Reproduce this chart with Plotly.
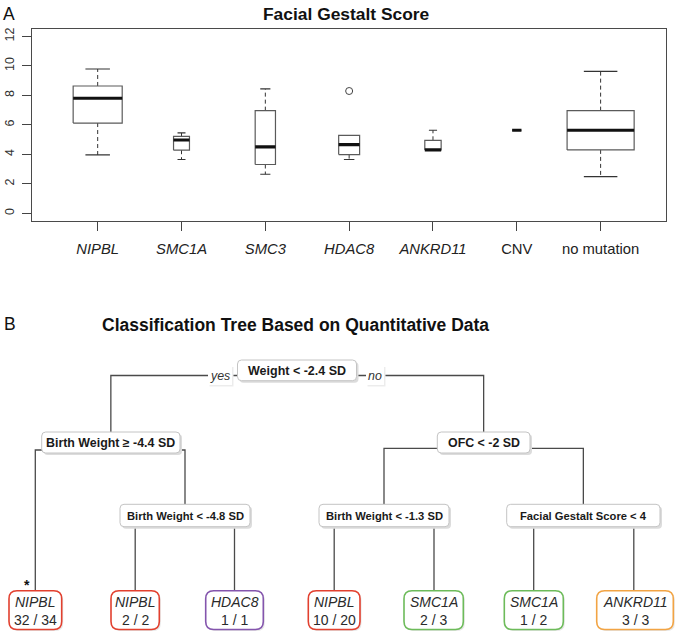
import plotly.graph_objects as go

# ---------------- Panel A data ----------------
categories = ["NIPBL", "SMC1A", "SMC3", "HDAC8", "ANKRD11", "CNV", "no mutation"]
is_gene = [True, True, True, True, True, False, False]
lower_whisker = [3.97, 3.66, 2.66, 3.66, 4.31, 5.64, 2.50]
q1_values = [6.13, 4.29, 3.32, 3.99, 4.31, 5.64, 4.31]
median_values = [7.81, 4.98, 4.51, 4.67, 4.31, 5.64, 5.64]
q3_values = [8.64, 5.23, 6.97, 5.30, 4.96, 5.64, 6.97]
upper_whisker = [9.79, 5.46, 8.44, 5.30, 5.64, 5.64, 9.63]
outlier_category = ["HDAC8"]
outlier_values = [8.30]
y_ticks = [0, 2, 4, 6, 8, 10, 12]

# ---------------- Panel B data (classification tree) ----------------
split_labels = ["Weight < -2.4 SD", "Birth Weight \u2265 -4.4 SD", "OFC < -2 SD",
                "Birth Weight < -4.8 SD", "Birth Weight < -1.3 SD", "Facial Gestalt Score < 4"]
branch_labels = ["yes", "no"]
leaf_classes = ["NIPBL", "NIPBL", "HDAC8", "NIPBL", "SMC1A", "SMC1A", "ANKRD11"]
leaf_correct = [32, 2, 1, 10, 2, 1, 3]
leaf_total = [34, 2, 1, 20, 3, 2, 3]
leaf_marks = ["*", "", "", "", "", "", ""]

# ---------------- styles / layout positions ----------------
FONT = "Liberation Sans, Arial, sans-serif"
box_widths = [0.585, 0.19, 0.242, 0.25, 0.195, 0.111, 0.80]
class_colors = {"NIPBL": "#e2402f", "HDAC8": "#8455ad", "SMC1A": "#6dbb5a", "ANKRD11": "#f2a444"}

# node geometry in pixel-like coordinates of the full-figure overlay axis
split_pos = [  # (x0, x1, y0, y1, fontsize)
    (237.5, 356.5, 360.0, 380.7, 12.5),
    (41.7, 180.0, 432.0, 453.0, 12.4),
    (437.3, 530.0, 432.0, 453.0, 12.4),
    (120.0, 250.0, 504.3, 526.7, 11.2),
    (319.0, 449.0, 504.3, 526.7, 11.2),
    (506.7, 660.0, 504.3, 526.7, 11.2),
]
leaf_pos = [  # (x0, x1)
    (9.0, 61.7), (111.0, 159.3), (205.7, 263.3), (308.3, 360.0),
    (404.0, 463.3), (504.3, 563.3), (596.7, 673.3),
]
leaf_y = (590.7, 629.5)
leaf_line_x = [35.3, 135.2, 234.5, 334.2, 434.0, 533.7, 633.8]
branch_pos = [(220.0, 375.5), (375.0, 375.5)]

fig = go.Figure()

# ---------------- Panel A: box plot built from the value arrays ----------------
xs = list(range(1, len(categories) + 1))
bx, by, mx, my, wx, wy, cx, cy = [], [], [], [], [], [], [], []
for i, x in enumerate(xs):
    h = box_widths[i] / 2
    bx += [x - h, x + h, x + h, x - h, x - h, None]
    by += [q1_values[i], q1_values[i], q3_values[i], q3_values[i], q1_values[i], None]
    mx += [x - h, x + h, None]
    my += [median_values[i], median_values[i], None]
    if upper_whisker[i] > q3_values[i]:
        wx += [x, x, None]
        wy += [q3_values[i], upper_whisker[i], None]
        cx += [x - h / 2, x + h / 2, None]
        cy += [upper_whisker[i], upper_whisker[i], None]
    if lower_whisker[i] < q1_values[i]:
        wx += [x, x, None]
        wy += [q1_values[i], lower_whisker[i], None]
        cx += [x - h / 2, x + h / 2, None]
        cy += [lower_whisker[i], lower_whisker[i], None]

common = dict(mode="lines", hoverinfo="skip", showlegend=False, xaxis="x", yaxis="y")
fig.add_trace(go.Scatter(x=wx, y=wy, line=dict(color="#333333", width=1, dash="4px,3px"), **common))
fig.add_trace(go.Scatter(x=cx, y=cy, line=dict(color="#333333", width=1.2), **common))
fig.add_trace(go.Scatter(x=bx, y=by, line=dict(color="#5a5a5a", width=1.2), **common))
fig.add_trace(go.Scatter(x=mx, y=my, line=dict(color="#111111", width=3.2), **common))
fig.add_trace(go.Scatter(
    x=[xs[categories.index(c)] for c in outlier_category], y=outlier_values,
    mode="markers", marker=dict(symbol="circle-open", size=7, color="#444444", line=dict(width=1)),
    hoverinfo="skip", showlegend=False, xaxis="x", yaxis="y"))

ticktext = [("<i>%s</i>" % c) if g else c for c, g in zip(categories, is_gene)]

# ---------------- Panel B: tree ----------------
def rrect(x0, y0, x1, y1, r):
    return ("M %f,%f L %f,%f Q %f,%f %f,%f L %f,%f Q %f,%f %f,%f L %f,%f Q %f,%f %f,%f "
            "L %f,%f Q %f,%f %f,%f Z") % (
        x0 + r, y0, x1 - r, y0, x1, y0, x1, y0 + r,
        x1, y1 - r, x1, y1, x1 - r, y1,
        x0 + r, y1, x0, y1, x0, y1 - r,
        x0, y0 + r, x0, y0, x0 + r, y0)

def center(p):
    return (p[0] + p[1]) / 2

shapes = []
annotations = []
tx, ty = [], []

# connectors
s = split_pos
top_y = 375.5
tx += [center(s[1]), center(s[1]), center(s[2]), center(s[2]), None]
ty += [s[1][2], top_y, top_y, s[2][2], None]
# node 1 -> leaf 0 and node 3
tx += [leaf_line_x[0], leaf_line_x[0], center(s[3]), center(s[3]), None]
ty += [leaf_y[0], 450.0, 450.0, s[3][2], None]
# node 2 -> node 4 and node 5
tx += [center(s[4]), center(s[4]), center(s[5]), center(s[5]), None]
ty += [s[4][2], 448.3, 448.3, s[5][2], None]
# level-2 nodes -> leaves
for node, (a, b) in zip([3, 4, 5], [(1, 2), (3, 4), (5, 6)]):
    tx += [leaf_line_x[a], leaf_line_x[a], leaf_line_x[b], leaf_line_x[b], None]
    ty += [leaf_y[0], 520.0, 520.0, leaf_y[0], None]
fig.add_trace(go.Scatter(x=tx, y=ty, mode="lines", line=dict(color="#4a4a4a", width=1.3),
                         hoverinfo="skip", showlegend=False, xaxis="x2", yaxis="y2"))

# split nodes
for lab, (x0, x1, y0, y1, fs) in zip(split_labels, split_pos):
    shapes.append(dict(type="path", xref="x2", yref="y2", path=rrect(x0 + 2, y0 + 2, x1 + 2, y1 + 2, 4),
                       fillcolor="#dcdcdc", line=dict(width=0)))
    shapes.append(dict(type="path", xref="x2", yref="y2", path=rrect(x0, y0, x1, y1, 4),
                       fillcolor="white", line=dict(color="#c4c4c4", width=1)))
    annotations.append(dict(xref="x2", yref="y2", x=(x0 + x1) / 2, y=(y0 + y1) / 2 + 0.5,
                            text="<b>%s</b>" % lab.replace("<", "&lt;"), showarrow=False,
                            font=dict(family=FONT, size=fs, color="#1a1a1a")))

# yes / no labels
for lab, (bxp, byp) in zip(branch_labels, branch_pos):
    w = 12 if lab == "yes" else 9
    shapes.append(dict(type="rect", xref="x2", yref="y2", x0=bxp - w + 1.5, x1=bxp + w + 1.5,
                       y0=byp - 8.5, y1=byp + 11, fillcolor="#ececec", line=dict(width=0)))
    shapes.append(dict(type="rect", xref="x2", yref="y2", x0=bxp - w, x1=bxp + w,
                       y0=byp - 9.5, y1=byp + 9.5, fillcolor="white", line=dict(width=0)))
    annotations.append(dict(xref="x2", yref="y2", x=bxp, y=byp + 0.5, text="<i>%s</i>" % lab,
                            showarrow=False, font=dict(family=FONT, size=12.4, color="#333333")))

# leaves
for cls, c, t, mark, (x0, x1) in zip(leaf_classes, leaf_correct, leaf_total, leaf_marks, leaf_pos):
    col = class_colors[cls]
    y0, y1 = leaf_y
    shapes.append(dict(type="path", xref="x2", yref="y2", path=rrect(x0 + 1.5, y0 + 1.5, x1 + 1.5, y1 + 1.5, 8),
                       fillcolor="#e6e6e6", line=dict(width=0)))
    shapes.append(dict(type="path", xref="x2", yref="y2", path=rrect(x0, y0, x1, y1, 8),
                       fillcolor="white", line=dict(color=col, width=1.6)))
    xc = (x0 + x1) / 2
    annotations.append(dict(xref="x2", yref="y2", x=xc, y=602.3, text="<i>%s</i>" % cls,
                            showarrow=False, font=dict(family=FONT, size=14, color="#2a2a2a")))
    annotations.append(dict(xref="x2", yref="y2", x=xc, y=620.0, text="%d / %d" % (c, t),
                            showarrow=False, font=dict(family=FONT, size=14, color="#2a2a2a")))
    if mark:
        annotations.append(dict(xref="x2", yref="y2", x=x0 + 17.7, y=584.5, text="<b>%s</b>" % mark,
                                showarrow=False, font=dict(family=FONT, size=14, color="#111111")))

# titles and panel letters
annotations += [
    dict(xref="x2", yref="y2", x=9, y=13.5, text="A", showarrow=False,
         font=dict(family=FONT, size=17.5, color="#111111")),
    dict(xref="x2", yref="y2", x=346, y=13.5, text="<b>Facial Gestalt Score</b>", showarrow=False,
         font=dict(family=FONT, size=17.4, color="#111111")),
    dict(xref="x2", yref="y2", x=9.5, y=324, text="B", showarrow=False,
         font=dict(family=FONT, size=17.5, color="#111111")),
    dict(xref="x2", yref="y2", x=295.5, y=325, text="<b>Classification Tree Based on Quantitative Data</b>",
         showarrow=False, font=dict(family=FONT, size=17.5, color="#111111")),
]

W, H = 675, 631
fig.update_layout(
    width=W, height=H, margin=dict(l=0, r=0, t=0, b=0),
    paper_bgcolor="white", plot_bgcolor="rgba(0,0,0,0)",
    showlegend=False,
    xaxis=dict(domain=[32.3 / W, 666.0 / W], range=[0.22, 7.78], anchor="y",
               tickmode="array", tickvals=xs, ticktext=ticktext,
               ticks="outside", ticklen=9.5, tickwidth=1.2, tickcolor="#444444",
               showline=True, mirror=True, linecolor="#4a4a4a", linewidth=1.3,
               showgrid=False, zeroline=False, automargin=False, ticklabelstandoff=5,
               tickfont=dict(family=FONT, size=14.8, color="#222222"), fixedrange=True),
    yaxis=dict(domain=[1 - 220.6 / H, 1 - 29.3 / H], range=[-0.48, 12.48], anchor="x",
               tickmode="array", tickvals=y_ticks, tickangle=-90,
               ticks="outside", ticklen=9, tickwidth=1.2, tickcolor="#444444",
               showline=True, mirror=True, linecolor="#4a4a4a", linewidth=1.3,
               showgrid=False, zeroline=False, automargin=False, ticklabelstandoff=3,
               tickfont=dict(family=FONT, size=12.5, color="#333333"), fixedrange=True),
    xaxis2=dict(domain=[0, 1], range=[0, W], anchor="y2", visible=False, fixedrange=True),
    yaxis2=dict(domain=[0, 1], range=[H, 0], anchor="x2", visible=False, fixedrange=True),
    shapes=shapes, annotations=annotations,
)

fig.write_html("out.html", config={"displayModeBar": False},
               post_script="document.body.style.margin='0';document.body.style.padding='0';"
                           "document.body.style.overflow='hidden';")
